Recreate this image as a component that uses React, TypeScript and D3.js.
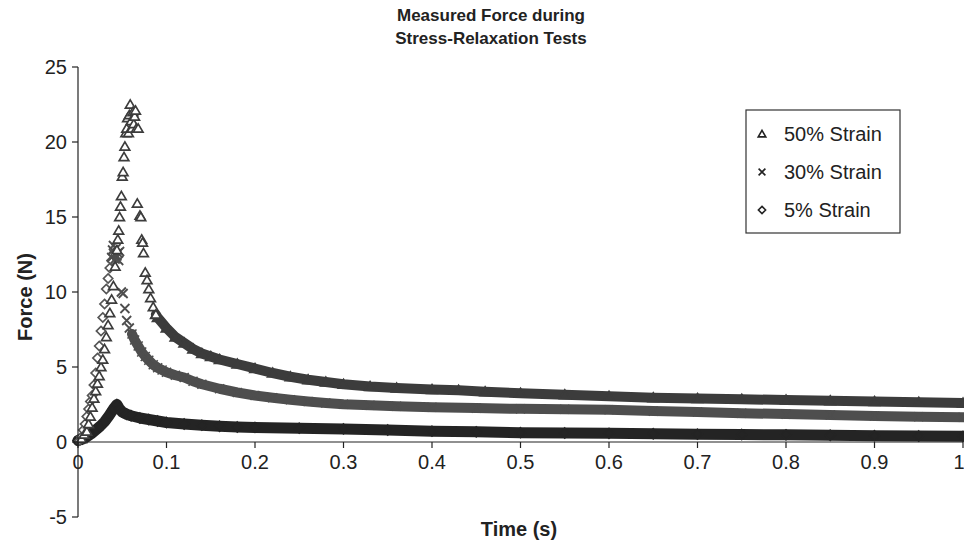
import React from "react";
import * as d3 from "d3";

// ---------- data ----------
const titleLines = ["Measured Force during", "Stress-Relaxation Tests"];
const xTicks = [0, 0.1, 0.2, 0.3, 0.4, 0.5, 0.6, 0.7, 0.8, 0.9, 1];
const yTicks = [-5, 0, 5, 10, 15, 20, 25];
const legendLabels = ["50% Strain", "30% Strain", "5% Strain"];

// 50% strain: loading ramp + peak (sparse, individual triangles)
const t50Peak = [0.004, 0.007, 0.010, 0.012, 0.014, 0.016, 0.018, 0.020, 0.022, 0.024, 0.026, 0.028, 0.030, 0.032, 0.034, 0.036, 0.038, 0.040, 0.042, 0.044,
  0.045, 0.046, 0.047, 0.048, 0.049, 0.050, 0.051, 0.052, 0.053, 0.054, 0.055, 0.056, 0.057, 0.058, 0.059, 0.060, 0.061, 0.062, 0.063, 0.064, 0.065, 0.066, 0.068,
  0.067, 0.070, 0.071, 0.072, 0.073, 0.074, 0.076, 0.078, 0.080, 0.082, 0.085, 0.088];
const f50Peak = [0.2, 0.5, 0.7, 1.2, 1.7, 2.3, 2.9, 3.4, 3.9, 4.4, 5.0, 5.5, 6.2, 7.0, 7.8, 8.6, 9.5, 10.4, 11.7, 12.8,
  13.5, 14.1, 15.0, 15.7, 16.4, 17.7, 18.0, 19.0, 19.7, 20.6, 20.9, 21.6, 20.6, 21.8, 22.5, 21.4, 20.9, 22.0, 21.2, 21.7, 22.1, 20.9, 20.9,
  15.9, 15.1, 15.0, 13.5, 13.3, 12.6, 11.3, 10.8, 10.2, 9.6, 9.0, 8.5];
// 50% strain: relaxation tail (dense band)
const t50Tail = [0.088, 0.09, 0.10, 0.11, 0.12, 0.13, 0.14, 0.15, 0.16, 0.18, 0.20, 0.22, 0.24, 0.26, 0.28, 0.30, 0.33, 0.36, 0.40, 0.43, 0.46, 0.50, 0.55, 0.60, 0.65, 0.70, 0.75, 0.80, 0.85, 0.90, 0.95, 1.00];
const f50Tail = [8.5, 8.3, 7.6, 7.0, 6.6, 6.2, 5.9, 5.7, 5.5, 5.2, 4.9, 4.6, 4.35, 4.15, 4.0, 3.85, 3.7, 3.6, 3.5, 3.45, 3.35, 3.25, 3.15, 3.05, 2.95, 2.9, 2.85, 2.8, 2.75, 2.7, 2.65, 2.6];

// 30% strain: loading ramp (diamonds)
const t30Load = [0.002, 0.004, 0.006, 0.008, 0.010, 0.012, 0.014, 0.016, 0.018, 0.020, 0.022, 0.024, 0.026, 0.028, 0.030, 0.032, 0.034, 0.036, 0.038, 0.040];
const f30Load = [0.1, 0.35, 0.8, 1.2, 1.7, 2.2, 2.7, 3.1, 3.8, 4.6, 5.6, 6.4, 7.4, 8.3, 9.2, 10.2, 10.9, 11.6, 12.1, 12.5];
// 30% strain: peak cluster and first decay points (crosses)
const t30Peak = [0.038, 0.039, 0.040, 0.041, 0.042, 0.043, 0.044, 0.045, 0.046, 0.047, 0.049, 0.051, 0.053, 0.055, 0.058];
const f30Peak = [12.3, 12.8, 13.1, 12.5, 12.2, 12.9, 12.4, 12.6, 12.1, 12.7, 10.0, 9.9, 8.9, 8.1, 7.6];
// 30% strain: relaxation tail
const t30Tail = [0.061, 0.064, 0.068, 0.072, 0.076, 0.080, 0.085, 0.090, 0.095, 0.10, 0.11, 0.12, 0.13, 0.14, 0.16, 0.18, 0.20, 0.22, 0.24, 0.26, 0.28, 0.30, 0.33, 0.36, 0.40, 0.45, 0.50, 0.55, 0.60, 0.65, 0.70, 0.75, 0.80, 0.85, 0.90, 0.95, 1.00];
const f30Tail = [7.2, 6.8, 6.4, 6.0, 5.7, 5.45, 5.15, 4.95, 4.8, 4.65, 4.45, 4.3, 4.05, 3.85, 3.55, 3.3, 3.1, 2.95, 2.82, 2.7, 2.6, 2.52, 2.45, 2.38, 2.32, 2.26, 2.21, 2.18, 2.15, 2.06, 2.0, 1.92, 1.86, 1.8, 1.73, 1.68, 1.65];

// 5% strain
const t5 = [0.0, 0.005, 0.01, 0.015, 0.02, 0.025, 0.03, 0.035, 0.04, 0.044, 0.047, 0.05, 0.055, 0.06, 0.07, 0.08, 0.09, 0.10, 0.12, 0.14, 0.16, 0.18, 0.20, 0.25, 0.30, 0.35, 0.40, 0.45, 0.50, 0.55, 0.60, 0.65, 0.70, 0.75, 0.80, 0.85, 0.90, 0.95, 1.00];
const f5 = [0.1, 0.2, 0.35, 0.55, 0.8, 1.05, 1.35, 1.75, 2.2, 2.5, 2.2, 2.0, 1.85, 1.75, 1.6, 1.5, 1.4, 1.3, 1.2, 1.12, 1.05, 1.0, 0.97, 0.92, 0.87, 0.8, 0.72, 0.68, 0.62, 0.6, 0.58, 0.55, 0.52, 0.5, 0.48, 0.45, 0.42, 0.4, 0.38];

// ---------- layout ----------
const W = 964, H = 547;
const FONT = "'Liberation Sans', Arial, Helvetica, sans-serif";

const x = d3.scaleLinear().domain([0, 1]).range([78, 963]);
const y = d3.scaleLinear().domain([-5, 25]).range([517, 67]);

const zip = (ts: number[], fs: number[]) => ts.map((t, i) => [t, fs[i]] as [number, number]);

const tri = (s: number) => `M0,${-s} L${s * 1.05},${s * 0.8} L${-s * 1.05},${s * 0.8} Z`;
const cross = (s: number) => `M${-s},${-s} L${s},${s} M${-s},${s} L${s},${-s}`;
const diamond = (s: number) => `M0,${-s} L${s},0 L0,${s} L${-s},0 Z`;

const line = d3.line<[number, number]>().x(d => x(d[0])).y(d => y(d[1]));

function Markers({ pts, path, color, fill, sw }: { pts: [number, number][]; path: string; color: string; fill: string; sw: number }) {
  return (
    <g>
      {pts.map((p, i) => (
        <path key={i} d={path} transform={`translate(${x(p[0])},${y(p[1])})`} fill={fill} stroke={color} strokeWidth={sw} />
      ))}
    </g>
  );
}

export default function App() {
  const c50 = "#3c3c3c", c30 = "#4e4e4e", c5 = "#242424", cLoad = "#555555";
  const p50Peak = zip(t50Peak, f50Peak);
  const p50Tail = zip(t50Tail, f50Tail);
  const p30Load = zip(t30Load, f30Load);
  const p30Peak = zip(t30Peak, f30Peak);
  const p30Tail = zip(t30Tail, f30Tail);
  const p5 = zip(t5, f5);
  const y0 = y(0);
  const legendMarkers = [tri(3.6), cross(3.4), diamond(3.6)];
  return (
    <svg width={W} height={H} style={{ position: "absolute", left: 0, top: 0, background: "#fff" }} fontFamily={FONT}>
      <rect x={0} y={0} width={W} height={H} fill="#fff" />
      {/* title */}
      {titleLines.map((t, i) => (
        <text key={i} x={491} y={21 + i * 23} textAnchor="middle" fontSize={17} fontWeight="bold" fill="#222">{t}</text>
      ))}

      {/* bands */}
      <path d={line(p5) || ""} fill="none" stroke={c5} strokeWidth={11} strokeLinejoin="round" strokeLinecap="round" />
      <path d={line(p30Tail) || ""} fill="none" stroke={c30} strokeWidth={10} strokeLinejoin="round" strokeLinecap="round" />
      <path d={line(p50Tail) || ""} fill="none" stroke={c50} strokeWidth={10} strokeLinejoin="round" strokeLinecap="round" />

      {/* markers */}
      <Markers pts={p5} path={diamond(5)} color={c5} fill={c5} sw={1.6} />
      <Markers pts={p30Load} path={diamond(4.6)} color={cLoad} fill="#fff" sw={1.7} />
      <Markers pts={p30Tail} path={cross(4.5)} color={c30} fill="none" sw={1.6} />
      <Markers pts={p30Peak} path={cross(4.5)} color={c30} fill="none" sw={1.8} />
      <Markers pts={p50Tail} path={tri(5)} color={c50} fill={c50} sw={1.6} />
      <Markers pts={p50Peak} path={tri(4.6)} color={c50} fill="#fff" sw={1.7} />

      {/* y axis */}
      <line x1={x(0)} x2={x(0)} y1={y(25)} y2={y(-5)} stroke="#222" strokeWidth={1.2} />
      {yTicks.map(v => (
        <g key={v}>
          <line x1={x(0) - 6} x2={x(0)} y1={y(v)} y2={y(v)} stroke="#222" strokeWidth={1.2} />
          <text x={67} y={y(v)} dy="0.36em" textAnchor="end" fontSize={20} fill="#222">{v}</text>
        </g>
      ))}
      {/* x axis at y=0 */}
      <line x1={x(0)} x2={x(1)} y1={y0} y2={y0} stroke="#222" strokeWidth={1.2} />
      {xTicks.map(v => (
        <g key={v}>
          <line x1={x(v)} x2={x(v)} y1={y0} y2={y0 + 6} stroke="#222" strokeWidth={1.2} />
          <text x={v === 1 ? x(v) - 4 : x(v)} y={y0 + 27} textAnchor="middle" fontSize={20} fill="#222">{v}</text>
        </g>
      ))}

      {/* axis titles */}
      <text x={519} y={536} textAnchor="middle" fontSize={20} fontWeight="bold" fill="#222">Time (s)</text>
      <text transform={`translate(32,297) rotate(-90)`} textAnchor="middle" fontSize={20} fontWeight="bold" fill="#222">Force (N)</text>

      {/* legend */}
      <rect x={746} y={110} width={154} height={123} fill="#fff" stroke="#333" strokeWidth={1.2} />
      {legendLabels.map((l, i) => (
        <g key={l} transform={`translate(0,${134 + i * 38})`}>
          <path d={legendMarkers[i]} transform="translate(762,0)" fill="#fff" stroke="#222" strokeWidth={1.6} />
          <text x={784} y={0} dy="0.36em" fontSize={20} fill="#222">{l}</text>
        </g>
      ))}
    </svg>
  );
}
